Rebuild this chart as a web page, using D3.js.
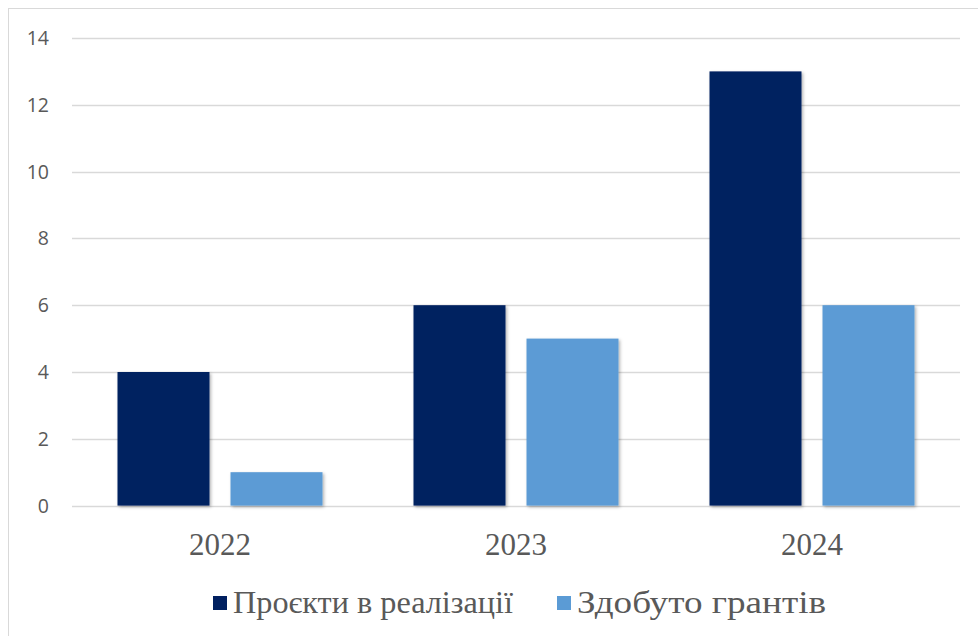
<!DOCTYPE html>
<html><head><meta charset="utf-8">
<script src="https://cdn.jsdelivr.net/npm/d3@7"></script>
<style>body{margin:0;background:#fff}svg{display:block}</style>
</head><body>
<svg id="c" width="978" height="636"></svg>
<script>
const categories = ["2022", "2023", "2024"];
const seriesNames = ["Проєкти в реалізації", "Здобуто грантів"];
const projects = [4, 6, 13];
const grants = [1, 5, 6];
const yTicks = [0, 2, 4, 6, 8, 10, 12, 14];
const colors = ["#002060", "#5B9BD5"];

(function(){
const svg = d3.select("#c");
const defs = svg.append("defs");
const f = defs.append("filter").attr("id","sh").attr("x","-10%").attr("y","-10%").attr("width","130%").attr("height","130%");
f.append("feDropShadow").attr("dx",1.5).attr("dy",1.5).attr("stdDeviation",1.5).attr("flood-color","#000").attr("flood-opacity",0.3);

svg.append("rect").attr("x",8.5).attr("y",8.5).attr("width",980).attr("height",640)
  .attr("fill","#fff").attr("stroke","#d9d9d9").attr("stroke-width",1);

const pl = 72, pr = 960, pt = 38, pb = 505.6;
const x = d3.scaleBand().domain(categories).range([pl, pr]).paddingInner(0).paddingOuter(0);
const y = d3.scaleLinear().domain([0, 14]).range([pb, pt]);
const outer = 45.5;
const x1 = d3.scaleBand().domain(seriesNames).range([outer, x.bandwidth() - outer]).paddingInner(0.186).paddingOuter(0);

svg.append("g").selectAll("line").data(yTicks).join("line")
  .attr("x1", pl).attr("x2", pr)
  .attr("y1", d => Math.round(y(d)) + 0.5).attr("y2", d => Math.round(y(d)) + 0.5)
  .attr("stroke", "#d9d9d9").attr("stroke-width", 1.3);

svg.append("g").selectAll("text").data(yTicks).join("text")
  .attr("x", 49).attr("y", d => y(d)).attr("dy", "0.36em")
  .attr("text-anchor", "end")
  .attr("font-family", "'Open Sans', 'Liberation Sans', sans-serif")
  .attr("font-size", 19.5).attr("fill", "#595959")
  .text(d => d);

const data = categories.map((c, i) => ({cat: c, vals: [projects[i], grants[i]]}));
const g = svg.append("g").selectAll("g").data(data).join("g")
  .attr("transform", d => `translate(${x(d.cat)},0)`);
g.selectAll("rect").data(d => d.vals.map((v, j) => ({v, j}))).join("rect")
  .attr("x", d => x1(seriesNames[d.j]))
  .attr("width", x1.bandwidth())
  .attr("y", d => y(d.v))
  .attr("height", d => y(0) - y(d.v))
  .attr("fill", d => colors[d.j])
  .attr("filter", "url(#sh)");

svg.append("g").selectAll("text").data(categories).join("text")
  .attr("x", d => x(d) + x.bandwidth()/2).attr("y", 555)
  .attr("text-anchor", "middle")
  .attr("font-family", "'Liberation Serif', 'Times New Roman', serif")
  .attr("font-size", 31).attr("fill", "#595959")
  .text(d => d);

const legendPos = [{sx: 213, tx: 233, w: 280}, {sx: 557, tx: 577, w: 249}];
const lg = svg.append("g").selectAll("g").data(seriesNames).join("g");
lg.append("rect").attr("x", (d,i) => legendPos[i].sx).attr("y", 596).attr("width", 14).attr("height", 14)
  .attr("fill", (d,i) => colors[i]);
lg.append("text").attr("x", (d,i) => legendPos[i].tx).attr("y", 613)
  .attr("font-family", "'Liberation Serif', 'Times New Roman', serif")
  .attr("font-size", 31).attr("fill", "#595959")
  .attr("textLength", (d,i) => legendPos[i].w).attr("lengthAdjust", "spacingAndGlyphs")
  .text(d => d);
})();
</script>
</body></html>
